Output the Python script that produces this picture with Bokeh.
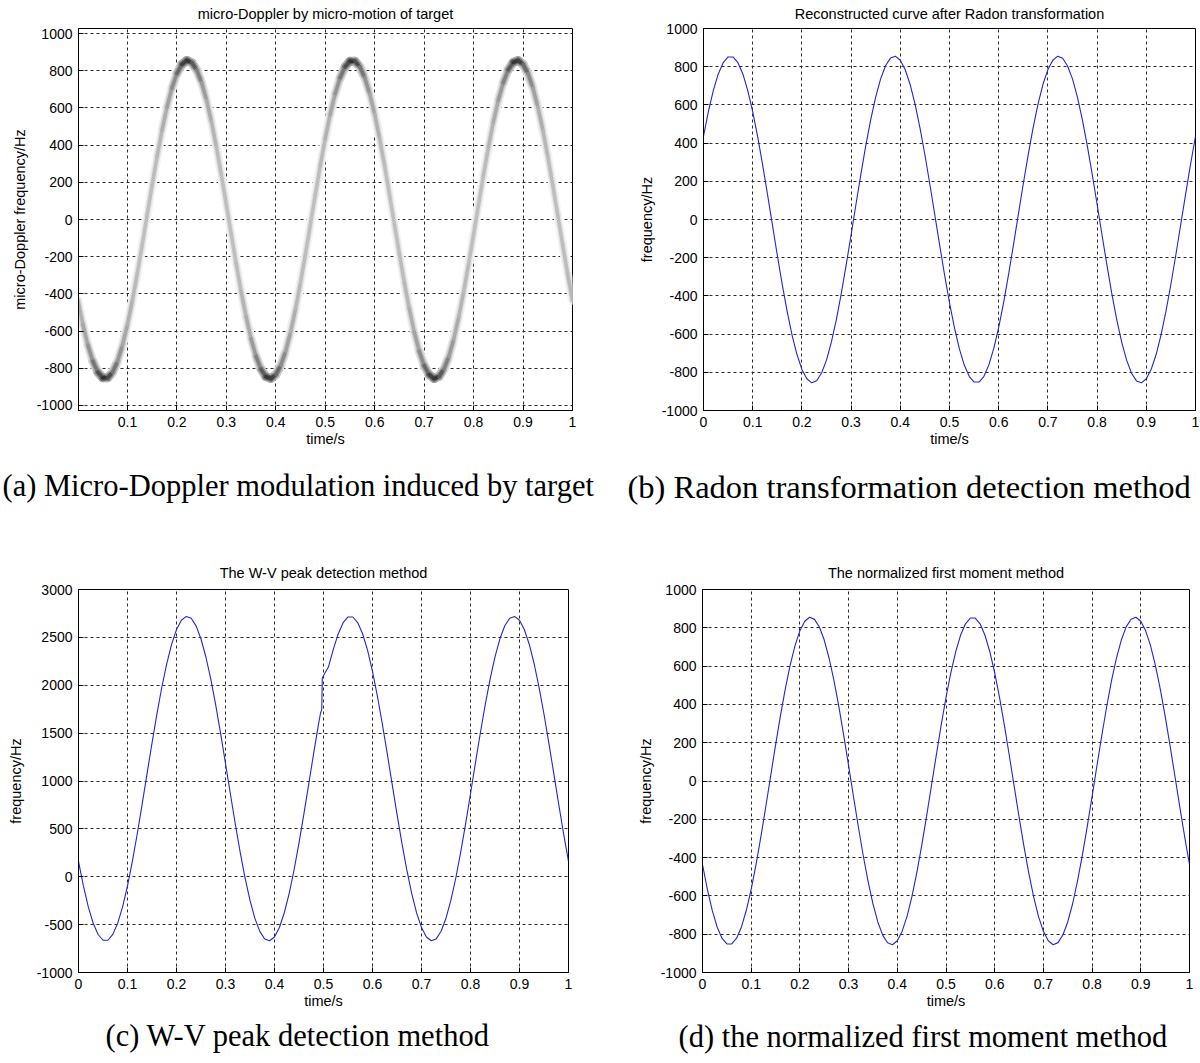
import numpy as np
from bokeh.plotting import figure
from bokeh.models import FixedTicker, Range1d, Title
from bokeh.layouts import column, row
from bokeh.embed import file_html
from bokeh.resources import INLINE

# ---------------- data ----------------
time_s = [i / 100 for i in range(101)]

doppler_hz = [-436, -566, -676, -762, -821, -851, -851, -821, -762, -675, -565,
              -435, -289, -133, 27, 187, 340, 481, 605, 707, 785,
              834, 855, 844, 804, 736, 641, 524, 388, 238, 80,
              -81, -239, -389, -524, -642, -736, -805, -845, -855, -834,
              -784, -707, -604, -480, -339, -186, -26, 134, 290, 436,
              566, 676, 762, 821, 851, 851, 821, 761, 675, 565,
              435, 289, 133, -28, -187, -340, -481, -605, -708, -785,
              -834, -855, -844, -804, -736, -641, -523, -387, -238, -80,
              81, 239, 389, 525, 642, 736, 805, 845, 855, 834,
              784, 707, 604, 480, 339, 186, 26, -134, -290, -436]

radon_hz = [436, 566, 676, 762, 821, 851, 851, 821, 762, 675, 565,
            435, 289, 133, -27, -187, -340, -481, -605, -707, -785,
            -834, -855, -844, -804, -736, -641, -524, -388, -238, -80,
            81, 239, 389, 524, 642, 736, 805, 845, 855, 834,
            784, 707, 604, 480, 339, 186, 26, -134, -290, -436,
            -566, -676, -762, -821, -851, -851, -821, -761, -675, -565,
            -435, -289, -133, 28, 187, 340, 481, 605, 708, 785,
            834, 855, 844, 804, 736, 641, 523, 387, 238, 80,
            -81, -239, -389, -525, -642, -736, -805, -845, -855, -834,
            -784, -707, -604, -480, -339, -186, -26, 134, 290, 436]

moment_hz = [-436, -566, -676, -762, -821, -851, -851, -821, -762, -675, -565,
             -435, -289, -133, 27, 187, 340, 481, 605, 707, 785,
             834, 855, 844, 804, 736, 641, 524, 388, 238, 80,
             -81, -239, -389, -524, -642, -736, -805, -845, -855, -834,
             -784, -707, -604, -480, -339, -186, -26, 134, 290, 436,
             566, 676, 762, 821, 851, 851, 821, 761, 675, 565,
             435, 289, 133, -28, -187, -340, -481, -605, -708, -785,
             -834, -855, -844, -804, -736, -641, -523, -387, -238, -80,
             81, 239, 389, 525, 642, 736, 805, 845, 855, 834,
             784, 707, 604, 480, 339, 186, 26, -134, -290, -436]

wv_time = [0.00, 0.01, 0.02, 0.03, 0.04, 0.05, 0.06, 0.07, 0.08, 0.09, 0.10,
           0.11, 0.12, 0.13, 0.14, 0.15, 0.16, 0.17, 0.18, 0.19, 0.20,
           0.21, 0.22, 0.23, 0.24, 0.25, 0.26, 0.27, 0.28, 0.29, 0.30,
           0.31, 0.32, 0.33, 0.34, 0.35, 0.36, 0.37, 0.38, 0.39, 0.40,
           0.41, 0.42, 0.43, 0.44, 0.45, 0.46, 0.47, 0.48, 0.49,
           0.494, 0.4965, 0.4975, 0.501,
           0.51, 0.52, 0.53, 0.54, 0.55, 0.56, 0.57, 0.58, 0.59, 0.60,
           0.61, 0.62, 0.63, 0.64, 0.65, 0.66, 0.67, 0.68, 0.69, 0.70,
           0.71, 0.72, 0.73, 0.74, 0.75, 0.76, 0.77, 0.78, 0.79, 0.80,
           0.81, 0.82, 0.83, 0.84, 0.85, 0.86, 0.87, 0.88, 0.89, 0.90,
           0.91, 0.92, 0.93, 0.94, 0.95, 0.96, 0.97, 0.98, 0.99, 1.00]

wv_hz = [161, -96, -315, -486, -603, -663, -663, -602, -485, -314, -95,
         163, 452, 761, 1079, 1396, 1699, 1979, 2224, 2427, 2581,
         2679, 2719, 2699, 2620, 2483, 2295, 2063, 1794, 1497, 1183,
         864, 551, 254, -15, -247, -435, -571, -650, -669, -629,
         -530, -376, -173, 73, 353, 657, 973, 1291, 1600,
         1710, 1745, 2075, 2110,
         2190, 2375, 2536, 2653, 2713, 2713, 2652, 2535, 2364, 2145,
         1887, 1598, 1289, 970, 654, 351, 71, -174, -378, -531,
         -629, -669, -649, -569, -433, -245, -13, 257, 553, 867,
         1186, 1499, 1796, 2065, 2297, 2485, 2621, 2700, 2719, 2679,
         2580, 2426, 2222, 1976, 1697, 1393, 1077, 758, 449, 161]

x_ticks_a = [0.1, 0.2, 0.3, 0.4, 0.5, 0.6, 0.7, 0.8, 0.9, 1.0]
x_ticks = [0.0, 0.1, 0.2, 0.3, 0.4, 0.5, 0.6, 0.7, 0.8, 0.9, 1.0]
x_tick_labels = ["0", "0.1", "0.2", "0.3", "0.4", "0.5", "0.6", "0.7", "0.8", "0.9", "1"]
y_ticks_pm = [-1000, -800, -600, -400, -200, 0, 200, 400, 600, 800, 1000]
y_ticks_wv = [-1000, -500, 0, 500, 1000, 1500, 2000, 2500, 3000]

titles = ["micro-Doppler by micro-motion of target",
          "Reconstructed curve after Radon transformation",
          "The W-V peak detection method",
          "The normalized first moment method"]
captions = ["(a) Micro-Doppler modulation induced by target",
            "(b) Radon transformation detection method",
            "(c) W-V peak detection method",
            "(d) the normalized first moment method"]
y_labels = ["micro-Doppler frequency/Hz", "frequency/Hz", "frequency/Hz", "frequency/Hz"]
x_label = "time/s"

SANS = "Liberation Sans"
SERIF = "Liberation Serif"
BLUE = "#2424d8"


def make_fig(width, height, xr, yr, xt, yt, ylabel, bl, br, bt, bb,
             title, title_standoff, caption, cap_size, cap_offset, cap_standoff,
             ylab_standoff):
    p = figure(width=width, height=height, x_range=Range1d(*xr), y_range=Range1d(*yr),
               output_backend="svg", toolbar_location=None,
               min_border_left=bl, min_border_right=br, min_border_top=bt,
               min_border_bottom=bb, background_fill_color="white",
               border_fill_color="white")
    p.xaxis.ticker = FixedTicker(ticks=xt)
    p.yaxis.ticker = FixedTicker(ticks=yt)
    p.xaxis.major_label_overrides = {v: lab for v, lab in zip(x_ticks, x_tick_labels)}
    p.yaxis.major_label_overrides = {v: str(v) for v in yt}
    for ax in (p.xaxis, p.yaxis):
        ax.major_label_text_font = SANS
        ax.major_label_text_font_size = "14px"
        ax.major_label_text_color = "black"
        ax.axis_label_text_font = SANS
        ax.axis_label_text_font_size = "14.5px"
        ax.axis_label_text_font_style = "normal"
        ax.axis_label_text_color = "black"
        ax.major_tick_in = 5
        ax.major_tick_out = 0
        ax.minor_tick_in = 0
        ax.minor_tick_out = 0
        ax.major_tick_line_color = "black"
        ax.axis_line_color = "black"
    p.xaxis.axis_label = x_label
    p.yaxis.axis_label = ylabel
    p.xaxis.major_label_standoff = 6
    p.xaxis.axis_label_standoff = 1
    p.yaxis.major_label_standoff = 6
    p.yaxis.axis_label_standoff = ylab_standoff
    p.grid.grid_line_color = "#2a2a2a"
    p.grid.grid_line_dash = "3 3"
    p.grid.grid_line_width = 1
    p.outline_line_color = "black"
    p.outline_line_alpha = 1
    p.outline_line_width = 1
    p.add_layout(Title(text=title, text_font=SANS, text_font_size="14.5px",
                       text_font_style="normal", text_color="black", align="center",
                       vertical_align="top", standoff=title_standoff), "above")
    p.add_layout(Title(text=caption, text_font=SERIF, text_font_size=cap_size,
                       text_font_style="normal", text_color="black", align="left",
                       offset=cap_offset, vertical_align="middle",
                       standoff=cap_standoff), "below")
    return p


# ---- (a) spectrogram-like band ----
pa = make_fig(600, 555, (0.001, 1.0), (-1027, 1027), x_ticks_a, y_ticks_pm, y_labels[0],
              78, 28, 28, 145, titles[0], 10, captions[0], "30.5px", -76, 36, 6)
t = np.array(time_s)
f = np.array(doppler_hz, dtype=float)
px_x = 494 / (1.0 - 0.001)
px_y = 382 / 2054
slope = np.abs(np.diff(f) * px_y / (np.diff(t) * px_x))
inten = 1.0 / np.sqrt(1.0 + (slope / 2.0) ** 2)


def grays(depth, power):
    out = []
    for i in inten:
        lv = int(round(255 - depth * i ** power))
        out.append("#%02x%02x%02x" % (lv, lv, lv))
    return out


for w, depth, pw in ((9, 95, 2.0), (6, 160, 1.5), (3.5, 205, 1.0)):
    pa.segment(x0=t[:-1], y0=f[:-1], x1=t[1:], y1=f[1:], line_color=grays(depth, pw),
               line_width=w, line_cap="round")

# ---- (b) ----
pb = make_fig(600, 555, (0.0, 1.0), (-1000, 1000), x_ticks, y_ticks_pm, y_labels[1],
              103, 5, 28, 145, titles[1], 10, captions[1], "32.5px", -76, 36, 4)
pb.line(time_s, radon_hz, line_color=BLUE, line_width=1.1)

# ---- (c) ----
pc = make_fig(600, 508, (0.0, 1.0), (-1000, 3000), x_ticks, y_ticks_wv, y_labels[2],
              78, 32, 34, 88, titles[2], 13, captions[2], "30.5px", 27, 12, 10)
pc.line(wv_time, wv_hz, line_color=BLUE, line_width=1.1)

# ---- (d) ----
pd_ = make_fig(600, 508, (0.0, 1.0), (-1000, 1000), x_ticks, y_ticks_pm, y_labels[3],
               102, 11, 34, 91, titles[3], 13, captions[3], "30.5px", -24, 15, 4)
pd_.line(time_s, moment_hz, line_color=BLUE, line_width=1.1)

layout = column(row(pa, pb), row(pc, pd_))
open("out.html", "w").write(file_html(layout, INLINE))
